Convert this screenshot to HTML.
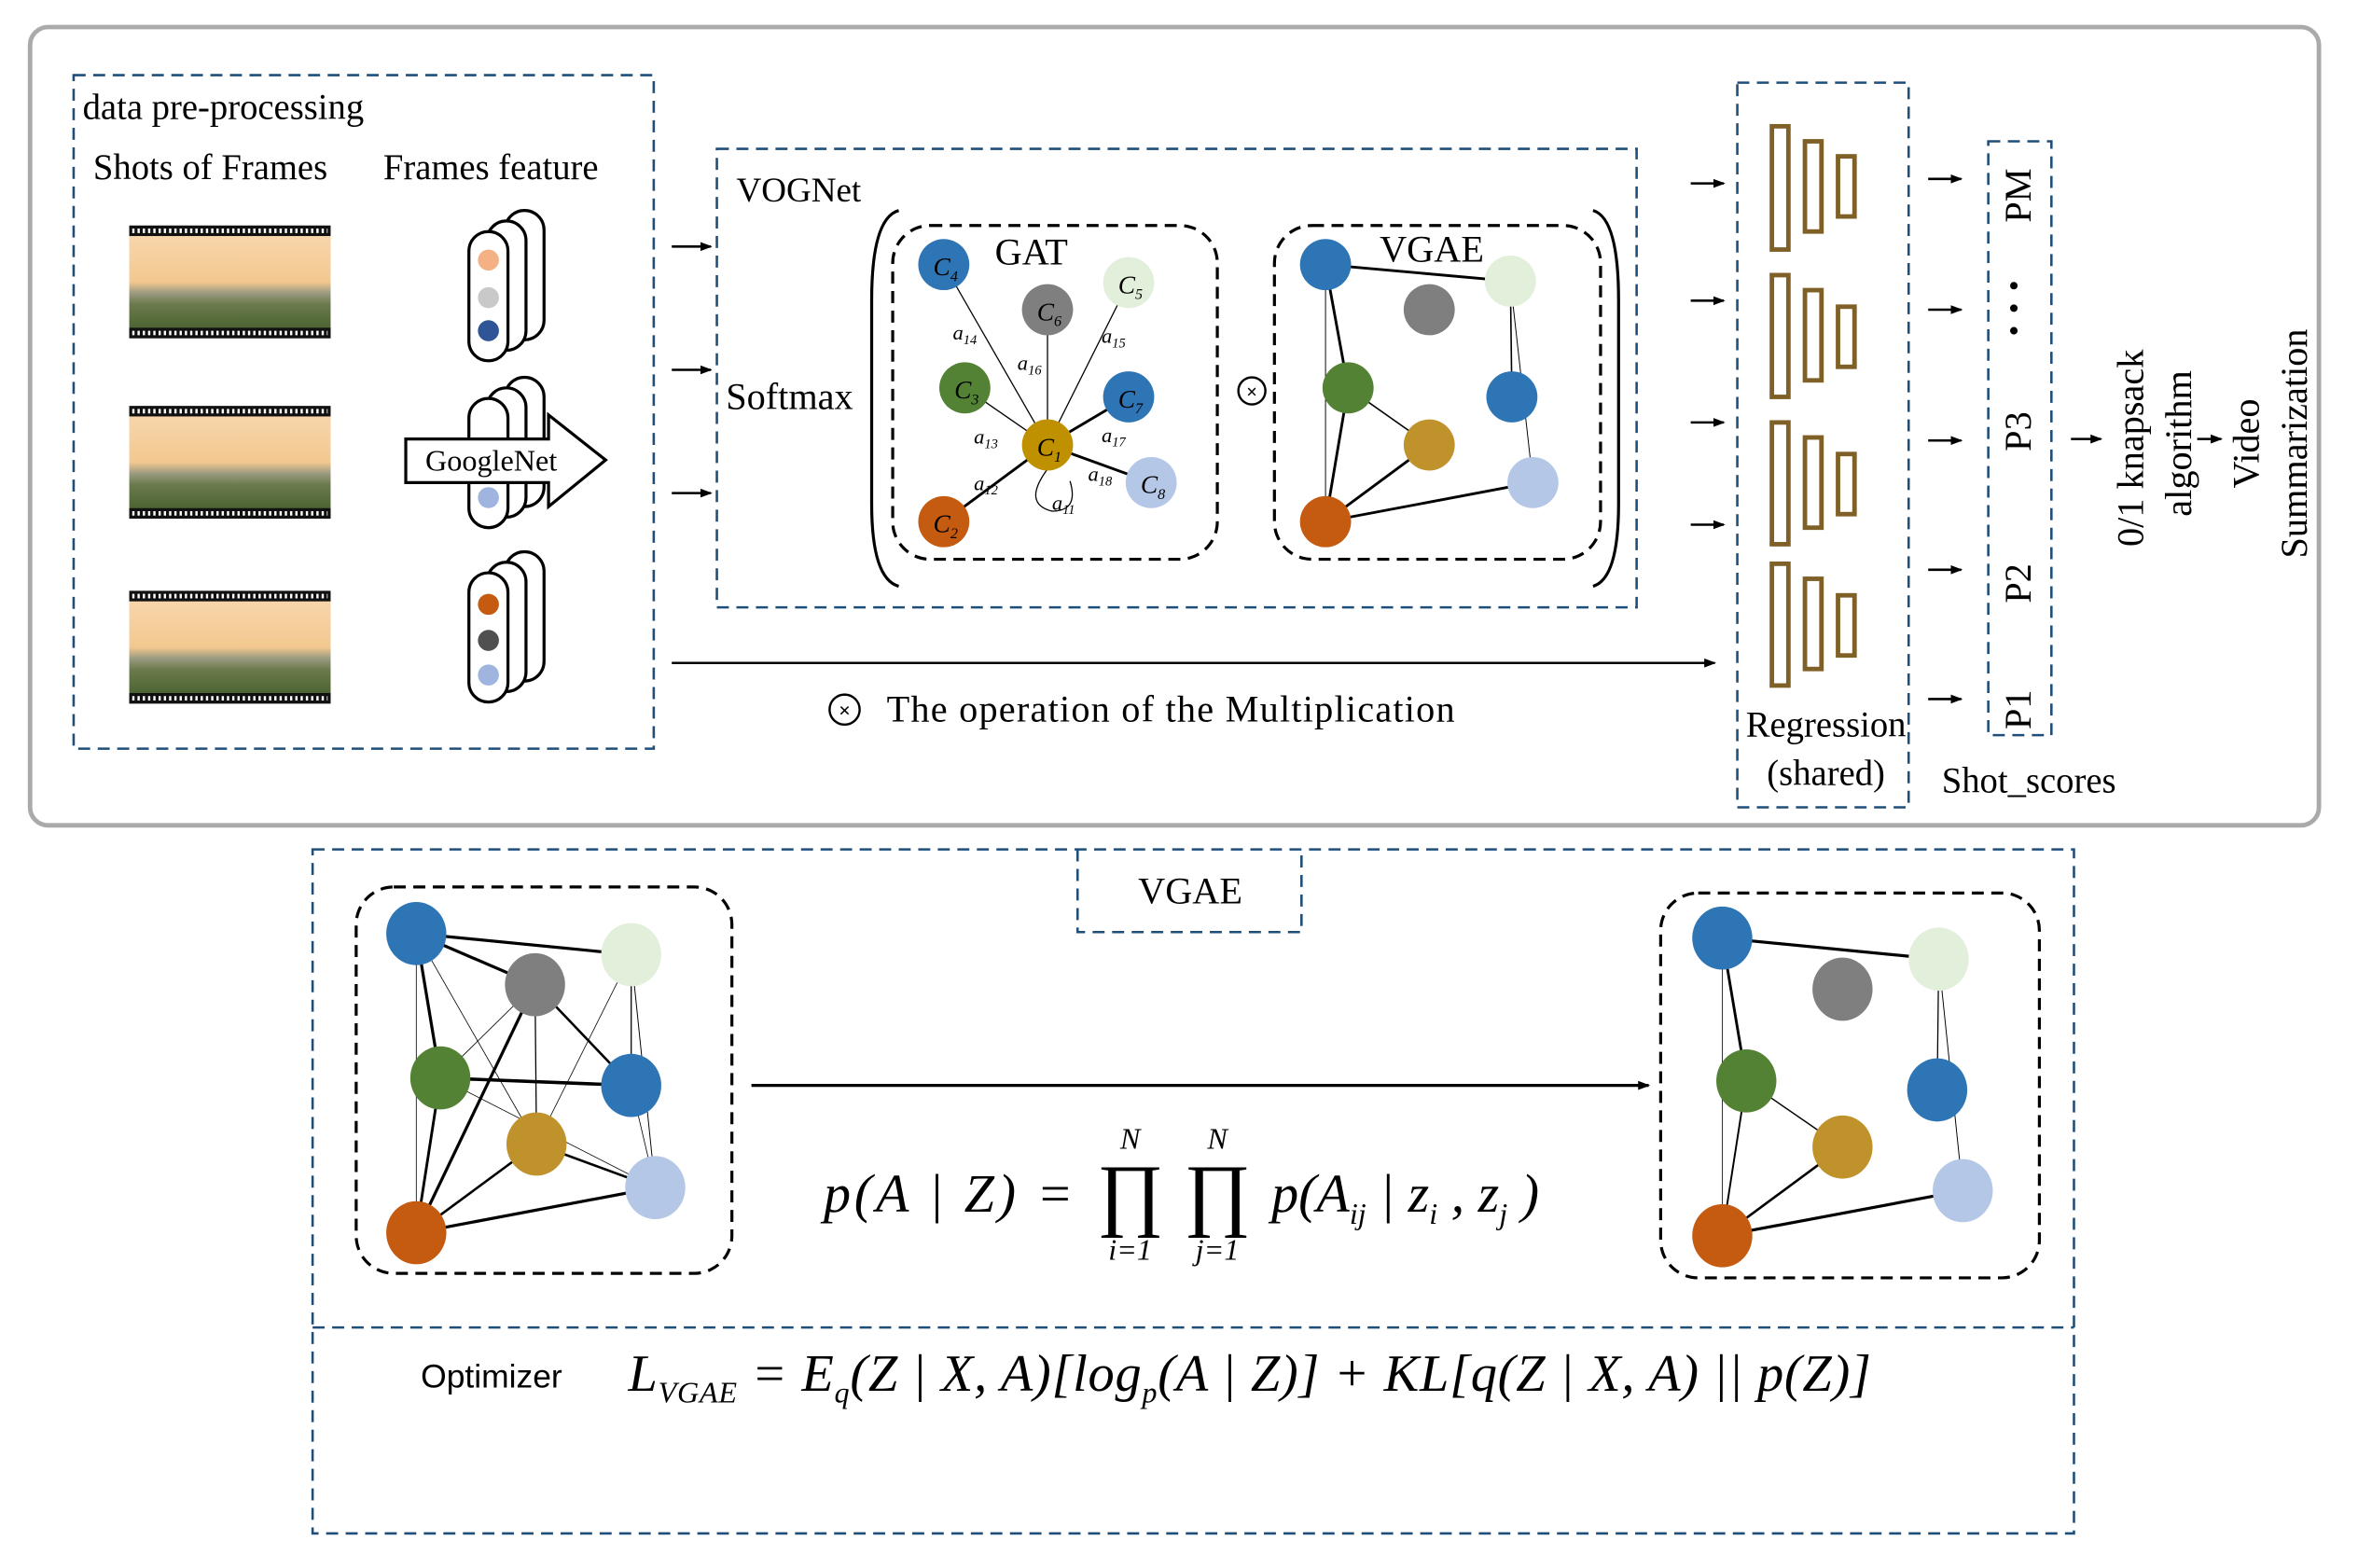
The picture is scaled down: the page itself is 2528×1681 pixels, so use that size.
<!DOCTYPE html>
<html><head><meta charset="utf-8"><style>html,body{margin:0;padding:0;background:#fff}svg{display:block}</style></head><body>
<svg width="2528" height="1681" viewBox="0 0 1569 1043" preserveAspectRatio="none" xmlns="http://www.w3.org/2000/svg" font-family="Liberation Serif, serif">
<defs>
<marker id="ah" markerWidth="8" markerHeight="8" refX="7" refY="4" orient="auto" markerUnits="userSpaceOnUse"><path d="M0,1 L8,4 L0,7 z" fill="#000"/></marker>
<linearGradient id="sky" x1="0" y1="0" x2="0" y2="1"><stop offset="0" stop-color="#f8d9b0"/><stop offset="0.5" stop-color="#f3c890"/><stop offset="0.6" stop-color="#9a9a80"/><stop offset="0.7" stop-color="#6b7a4c"/><stop offset="1" stop-color="#3f5a26"/></linearGradient>
</defs>
<rect x="20" y="18" width="1523" height="531" rx="12" fill="none" stroke="#aaa" stroke-width="3"/>
<rect x="49" y="50" width="386" height="448" fill="none" stroke="#1f4e79" stroke-width="1.6" stroke-dasharray="8,5"/>
<text x="55" y="79" font-size="24">data pre-processing</text>
<text x="62" y="119" font-size="24">Shots of Frames</text>
<text x="255" y="119" font-size="24">Frames feature</text>
<g>
<rect x="86" y="150" width="134" height="75" fill="url(#sky)"/><rect x="86" y="150" width="134" height="7" fill="#111"/><rect x="86" y="218" width="134" height="7" fill="#111"/>
<rect x="86" y="270" width="134" height="75" fill="url(#sky)"/><rect x="86" y="270" width="134" height="7" fill="#111"/><rect x="86" y="338" width="134" height="7" fill="#111"/>
<rect x="86" y="393" width="134" height="75" fill="url(#sky)"/><rect x="86" y="393" width="134" height="7" fill="#111"/><rect x="86" y="461" width="134" height="7" fill="#111"/>
<g stroke="#fff" stroke-width="3" stroke-dasharray="1.5,2">
<line x1="88" y1="153.5" x2="218" y2="153.5"/><line x1="88" y1="221.5" x2="218" y2="221.5"/>
<line x1="88" y1="273.5" x2="218" y2="273.5"/><line x1="88" y1="341.5" x2="218" y2="341.5"/>
<line x1="88" y1="396.5" x2="218" y2="396.5"/><line x1="88" y1="464.5" x2="218" y2="464.5"/>
</g>
</g>
<g stroke="#000" stroke-width="2" fill="#fff">
<rect x="336" y="140" width="26" height="86" rx="13"/><rect x="324" y="147" width="26" height="86" rx="13"/><rect x="312" y="154" width="26" height="86" rx="13"/>
<rect x="336" y="251" width="26" height="86" rx="13"/><rect x="324" y="258" width="26" height="86" rx="13"/><rect x="312" y="265" width="26" height="86" rx="13"/>
<rect x="336" y="367" width="26" height="86" rx="13"/><rect x="324" y="374" width="26" height="86" rx="13"/><rect x="312" y="381" width="26" height="86" rx="13"/>
</g>
<circle cx="325" cy="173" r="7" fill="#f4b183"/><circle cx="325" cy="198" r="7" fill="#c9c9c9"/><circle cx="325" cy="220" r="7" fill="#2f5597"/>
<circle cx="325" cy="331" r="7" fill="#9fb5e0"/>
<circle cx="325" cy="402" r="7" fill="#c55a11"/><circle cx="325" cy="426" r="7" fill="#505050"/><circle cx="325" cy="449" r="7" fill="#9fb5e0"/>
<polygon points="270,292 365,292 365,276 403,306 365,337 365,321 270,321" fill="#fff" stroke="#000" stroke-width="2"/>
<text x="283" y="313" font-size="20">GoogleNet</text>
<g stroke="#000" stroke-width="1.6" marker-end="url(#ah)">
<line x1="447" y1="164" x2="473" y2="164"/><line x1="447" y1="246" x2="473" y2="246"/><line x1="447" y1="328" x2="473" y2="328"/>
<line x1="447" y1="441" x2="1141" y2="441"/>
<line x1="1125" y1="122" x2="1147" y2="122"/><line x1="1125" y1="200" x2="1147" y2="200"/><line x1="1125" y1="281" x2="1147" y2="281"/><line x1="1125" y1="349" x2="1147" y2="349"/>
<line x1="1283" y1="119" x2="1305" y2="119"/><line x1="1283" y1="206" x2="1305" y2="206"/><line x1="1283" y1="293" x2="1305" y2="293"/><line x1="1283" y1="379" x2="1305" y2="379"/><line x1="1283" y1="465" x2="1305" y2="465"/>
<line x1="1378" y1="292" x2="1398" y2="292"/><line x1="1462" y1="292" x2="1478" y2="292"/>
</g>
<rect x="477" y="99" width="612" height="305" fill="none" stroke="#1f4e79" stroke-width="1.6" stroke-dasharray="8,5"/>
<text x="490" y="134" font-size="23">VOGNet</text>
<text x="483" y="272" font-size="25">Softmax</text>
<path d="M598,140 Q580,145 580,200 L580,335 Q580,385 598,390" fill="none" stroke="#000" stroke-width="2"/>
<path d="M1060,140 Q1077,145 1077,200 L1077,335 Q1077,385 1060,390" fill="none" stroke="#000" stroke-width="2"/>
<rect x="594" y="150" width="216" height="222" rx="25" fill="none" stroke="#000" stroke-width="2" stroke-dasharray="8,5"/>
<rect x="848" y="150" width="217" height="222" rx="25" fill="none" stroke="#000" stroke-width="2" stroke-dasharray="8,5"/>
<text x="662" y="176" font-size="25">GAT</text>
<text x="918" y="174" font-size="25">VGAE</text>
<g stroke="#000">
<line x1="628" y1="176" x2="697" y2="296" stroke-width="0.8"/><line x1="697" y1="206" x2="697" y2="296" stroke-width="0.8"/><line x1="751" y1="188" x2="697" y2="296" stroke-width="0.8"/><line x1="642" y1="258" x2="697" y2="296" stroke-width="0.8"/>
<line x1="751" y1="264" x2="697" y2="296" stroke-width="1.8"/><line x1="766" y1="321" x2="697" y2="296" stroke-width="1.8"/><line x1="628" y1="347" x2="697" y2="296" stroke-width="1.8"/>
<path d="M697,312 Q680,335 700,340 Q718,340 712,320" fill="none" stroke-width="0.8"/>
</g>
<g font-size="14" font-style="italic">
<text x="634" y="226">a<tspan font-size="9" dy="3">14</tspan></text><text x="677" y="246">a<tspan font-size="9" dy="3">16</tspan></text><text x="733" y="228">a<tspan font-size="9" dy="3">15</tspan></text><text x="648" y="295">a<tspan font-size="9" dy="3">13</tspan></text><text x="733" y="294">a<tspan font-size="9" dy="3">17</tspan></text><text x="648" y="326">a<tspan font-size="9" dy="3">12</tspan></text><text x="724" y="320">a<tspan font-size="9" dy="3">18</tspan></text><text x="700" y="339">a<tspan font-size="9" dy="3">11</tspan></text>
</g>
<g>
<circle cx="628" cy="176" r="17" fill="#2e75b6"/><circle cx="697" cy="206" r="17" fill="#7f7f7f"/><circle cx="751" cy="188" r="17" fill="#e2efda"/><circle cx="642" cy="258" r="17" fill="#548235"/><circle cx="751" cy="264" r="17" fill="#2e75b6"/><circle cx="697" cy="296" r="17" fill="#bf9000"/><circle cx="766" cy="321" r="17" fill="#b4c7e7"/><circle cx="628" cy="347" r="17" fill="#c55a11"/>
</g>
<g font-size="17" font-style="italic">
<text x="621" y="183">C<tspan font-size="10" dy="4">4</tspan></text><text x="690" y="213">C<tspan font-size="10" dy="4">6</tspan></text><text x="744" y="195">C<tspan font-size="10" dy="4">5</tspan></text><text x="635" y="265">C<tspan font-size="10" dy="4">3</tspan></text><text x="744" y="271">C<tspan font-size="10" dy="4">7</tspan></text><text x="690" y="303">C<tspan font-size="10" dy="4">1</tspan></text><text x="759" y="328">C<tspan font-size="10" dy="4">8</tspan></text><text x="621" y="354">C<tspan font-size="10" dy="4">2</tspan></text>
</g>
<circle cx="833" cy="260" r="9" fill="none" stroke="#000" stroke-width="1.5"/><text x="833" y="265" font-size="13" text-anchor="middle" font-weight="bold">×</text>
<g stroke="#000">
<line x1="882" y1="176" x2="1005" y2="187" stroke-width="1.8"/><line x1="882" y1="176" x2="897" y2="258" stroke-width="1.8"/><line x1="882" y1="176" x2="882" y2="347" stroke-width="0.6"/><line x1="1005" y1="187" x2="1006" y2="264" stroke-width="1"/><line x1="1005" y1="187" x2="1020" y2="321" stroke-width="0.6"/><line x1="897" y1="258" x2="951" y2="296" stroke-width="1"/><line x1="897" y1="258" x2="882" y2="347" stroke-width="1.8"/><line x1="951" y1="296" x2="882" y2="347" stroke-width="1.8"/><line x1="1020" y1="321" x2="882" y2="347" stroke-width="1.8"/>
</g>
<circle cx="882" cy="176" r="17" fill="#2e75b6"/><circle cx="951" cy="206" r="17" fill="#7f7f7f"/><circle cx="1005" cy="187" r="17" fill="#e2efda"/><circle cx="897" cy="258" r="17" fill="#548235"/><circle cx="1006" cy="264" r="17" fill="#2e75b6"/><circle cx="951" cy="296" r="17" fill="#c0922c"/><circle cx="1020" cy="321" r="17" fill="#b4c7e7"/><circle cx="882" cy="347" r="17" fill="#c55a11"/>
<circle cx="562" cy="472" r="10" fill="none" stroke="#000" stroke-width="1.5"/><text x="562" y="477" font-size="14" text-anchor="middle" font-weight="bold">×</text>
<text x="590" y="480" font-size="25" textLength="378">The operation of the Multiplication</text>
<rect x="1156" y="55" width="114" height="482" fill="none" stroke="#1f4e79" stroke-width="1.6" stroke-dasharray="8,5"/>
<g fill="none" stroke="#7f6026" stroke-width="3">
<rect x="1179" y="84" width="11" height="82"/><rect x="1201" y="94" width="11" height="60"/><rect x="1223" y="104" width="11" height="40"/>
<rect x="1179" y="183" width="11" height="81"/><rect x="1201" y="193" width="11" height="60"/><rect x="1223" y="204" width="11" height="40"/>
<rect x="1179" y="281" width="11" height="81"/><rect x="1201" y="291" width="11" height="60"/><rect x="1223" y="302" width="11" height="40"/>
<rect x="1179" y="375" width="11" height="81"/><rect x="1201" y="385" width="11" height="60"/><rect x="1223" y="396" width="11" height="40"/>
</g>
<text x="1215" y="490" font-size="24" text-anchor="middle">Regression</text>
<text x="1215" y="522" font-size="24" text-anchor="middle">(shared)</text>
<rect x="1323" y="94" width="42" height="395" fill="none" stroke="#1f4e79" stroke-width="1.6" stroke-dasharray="8,5"/>
<g font-size="25" text-anchor="middle">
<text transform="translate(1351,130) rotate(-90)">PM</text>
<text transform="translate(1351,287) rotate(-90)">P3</text>
<text transform="translate(1351,388) rotate(-90)">P2</text>
<text transform="translate(1351,472) rotate(-90)">P1</text>
</g>
<circle cx="1340" cy="190" r="2.5"/><circle cx="1340" cy="205" r="2.5"/><circle cx="1340" cy="220" r="2.5"/>
<text x="1350" y="527" font-size="24" text-anchor="middle">Shot_scores</text>
<g font-size="25" text-anchor="middle">
<text transform="translate(1426,298) rotate(-90)">0/1 knapsack</text>
<text transform="translate(1458,295) rotate(-90)">algorithm</text>
<text transform="translate(1503,295) rotate(-90)">Video</text>
<text transform="translate(1535,295) rotate(-90)">Summarization</text>
</g>
<rect x="208" y="565" width="1172" height="455" fill="none" stroke="#1f4e79" stroke-width="1.6" stroke-dasharray="8,5"/>
<line x1="208" y1="883" x2="1380" y2="883" stroke="#1f4e79" stroke-width="1.6" stroke-dasharray="8,5"/>
<path d="M717,565 L717,620 L866,620 L866,565" fill="none" stroke="#1f4e79" stroke-width="1.6" stroke-dasharray="8,5"/>
<text x="792" y="601" font-size="25" text-anchor="middle">VGAE</text>
<rect x="237" y="590" width="250" height="257" rx="25" fill="none" stroke="#000" stroke-width="2" stroke-dasharray="8,5"/>
<rect x="1105" y="594" width="252" height="256" rx="25" fill="none" stroke="#000" stroke-width="2" stroke-dasharray="8,5"/>
<g stroke="#000">
<line x1="277" y1="621" x2="420" y2="635" stroke-width="2"/><line x1="277" y1="621" x2="356" y2="655" stroke-width="2"/><line x1="277" y1="621" x2="293" y2="717" stroke-width="2"/><line x1="277" y1="621" x2="277" y2="820" stroke-width="0.5"/><line x1="277" y1="621" x2="357" y2="761" stroke-width="0.5"/><line x1="356" y1="655" x2="293" y2="717" stroke-width="0.5"/><line x1="356" y1="655" x2="277" y2="820" stroke-width="2"/><line x1="356" y1="655" x2="357" y2="761" stroke-width="0.8"/><line x1="356" y1="655" x2="420" y2="722" stroke-width="1.6"/><line x1="420" y1="635" x2="420" y2="722" stroke-width="0.8"/><line x1="420" y1="635" x2="357" y2="761" stroke-width="0.5"/><line x1="420" y1="635" x2="436" y2="790" stroke-width="0.6"/><line x1="293" y1="717" x2="420" y2="722" stroke-width="2.2"/><line x1="293" y1="717" x2="277" y2="820" stroke-width="1.8"/><line x1="293" y1="717" x2="436" y2="790" stroke-width="0.5"/><line x1="357" y1="761" x2="436" y2="790" stroke-width="1.6"/><line x1="357" y1="761" x2="277" y2="820" stroke-width="1.6"/><line x1="436" y1="790" x2="277" y2="820" stroke-width="2"/><line x1="420" y1="722" x2="436" y2="790" stroke-width="0.5"/>
<line x1="1146" y1="624" x2="1290" y2="638" stroke-width="2"/><line x1="1146" y1="624" x2="1162" y2="719" stroke-width="1.8"/><line x1="1146" y1="624" x2="1146" y2="822" stroke-width="0.5"/><line x1="1290" y1="638" x2="1289" y2="725" stroke-width="0.8"/><line x1="1290" y1="638" x2="1306" y2="792" stroke-width="0.6"/><line x1="1162" y1="719" x2="1226" y2="763" stroke-width="0.9"/><line x1="1162" y1="719" x2="1146" y2="822" stroke-width="1.2"/><line x1="1226" y1="763" x2="1146" y2="822" stroke-width="1.6"/><line x1="1306" y1="792" x2="1146" y2="822" stroke-width="2"/>
</g>
<g>
<ellipse cx="277" cy="621" rx="20" ry="21" fill="#2e75b6"/><ellipse cx="356" cy="655" rx="20" ry="21" fill="#7f7f7f"/><ellipse cx="420" cy="635" rx="20" ry="21" fill="#e2efda"/><ellipse cx="293" cy="717" rx="20" ry="21" fill="#548235"/><ellipse cx="420" cy="722" rx="20" ry="21" fill="#2e75b6"/><ellipse cx="357" cy="761" rx="20" ry="21" fill="#c0922c"/><ellipse cx="436" cy="790" rx="20" ry="21" fill="#b4c7e7"/><ellipse cx="277" cy="820" rx="20" ry="21" fill="#c55a11"/>
<ellipse cx="1146" cy="624" rx="20" ry="21" fill="#2e75b6"/><ellipse cx="1226" cy="658" rx="20" ry="21" fill="#7f7f7f"/><ellipse cx="1290" cy="638" rx="20" ry="21" fill="#e2efda"/><ellipse cx="1162" cy="719" rx="20" ry="21" fill="#548235"/><ellipse cx="1289" cy="725" rx="20" ry="21" fill="#2e75b6"/><ellipse cx="1226" cy="763" rx="20" ry="21" fill="#c0922c"/><ellipse cx="1306" cy="792" rx="20" ry="21" fill="#b4c7e7"/><ellipse cx="1146" cy="822" rx="20" ry="21" fill="#c55a11"/>
</g>
<line x1="500" y1="722" x2="1097" y2="722" stroke="#000" stroke-width="2" marker-end="url(#ah)"/>
<g font-size="36" font-style="italic">
<text x="548" y="806" textLength="166">p(A | Z) =</text>
<text x="846" y="806">p(A<tspan font-size="20" dy="8">ij</tspan><tspan dy="-8"> | z</tspan><tspan font-size="20" dy="8">i</tspan><tspan dy="-8"> , z</tspan><tspan font-size="20" dy="8">j</tspan><tspan dy="-8"> )</tspan></text>
</g>
<text x="752" y="812" font-size="54" text-anchor="middle">∏</text><text x="810" y="812" font-size="54" text-anchor="middle">∏</text>
<text x="752" y="764" font-size="20" font-style="italic" text-anchor="middle">N</text><text x="810" y="764" font-size="20" font-style="italic" text-anchor="middle">N</text>
<text x="752" y="838" font-size="20" font-style="italic" text-anchor="middle">i=1</text><text x="810" y="838" font-size="20" font-style="italic" text-anchor="middle">j=1</text>
<text x="280" y="923" font-size="22" font-family="Liberation Sans, sans-serif">Optimizer</text>
<text x="418" y="925" font-size="35" font-style="italic" textLength="827">L<tspan font-size="20" dy="8">VGAE</tspan><tspan dy="-8"> = E</tspan><tspan font-size="20" dy="8">q</tspan><tspan dy="-8">(Z | X, A)[log</tspan><tspan font-size="20" dy="8">p</tspan><tspan dy="-8">(A | Z)] + KL[q(Z | X, A) || p(Z)]</tspan></text>
</svg>
</body></html>
